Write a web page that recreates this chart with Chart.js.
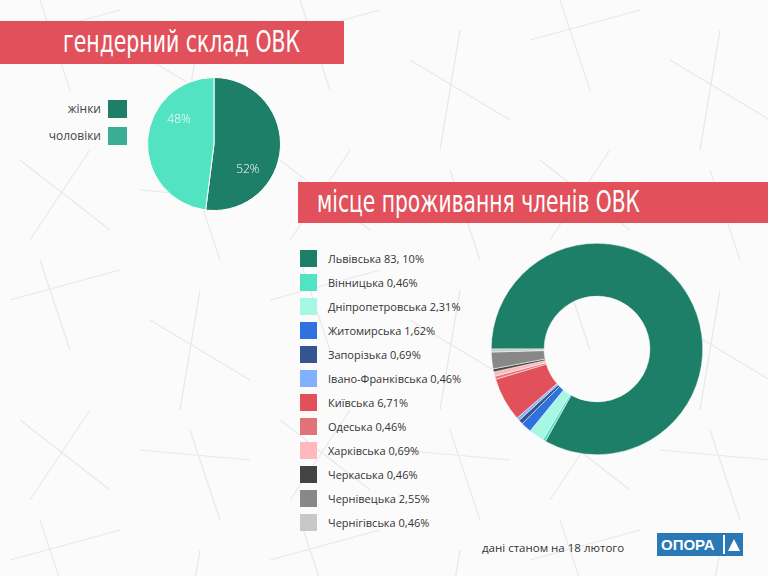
<!DOCTYPE html>
<html>
<head>
<meta charset="utf-8">
<script src="https://cdn.jsdelivr.net/npm/chart.js@4.4.0/dist/chart.umd.min.js"></script>
<style>
    body { margin: 0; }
    #page {
        position: relative; width: 768px; height: 576px; overflow: hidden;
        background-color: #fbfbfb;
        background-image: url("data:image/svg+xml,%3Csvg xmlns='http://www.w3.org/2000/svg' width='260' height='260'%3E%3Cg stroke='%23e8e8e8' stroke-width='1.2' fill='none'%3E%3Cpath d='M10 40 L120 10 M40 0 L70 90 M150 60 L250 120 M200 30 L180 150 M20 160 L110 230 M30 240 L90 150 M140 190 L250 200 M190 170 L220 260'/%3E%3C/g%3E%3C/svg%3E");
        font-family: "Open Sans", sans-serif;
    }
    .banner {
        position: absolute; background: #e2515b; color: #fff;
        font-family: "DejaVu Sans", sans-serif;
        font-size: 30px; white-space: nowrap;
    }
    .banner span { position: absolute; transform-origin: 0 0; }
    .box { position: absolute; }
    .legend-row { position: absolute; display: flex; align-items: center; font-size: 11px; color: #333; white-space: nowrap; }
    .legend-row i { display: inline-block; width: 17px; height: 17px; margin-right: 11px; }
    .glegend { position: absolute; font-size: 12px; color: #444; white-space: nowrap; text-align: right; }
    #note { position: absolute; left: 482px; top: 540px; font-size: 11.5px; color: #333; }
    #logo {
        position: absolute; left: 657px; top: 533px; width: 86px; height: 23px; background: #2a78b5;
        color: #fff; font: bold 15px "Liberation Sans", Arial, sans-serif;
    }
</style>
</head>
<body>
<div id="page">
    <div class="banner" style="left:0;top:21px;width:344px;height:43px;"><span data-w="237" style="left:63px;top:3px">гендерний склад ОВК</span></div>
    <div class="banner" style="left:298px;top:182px;width:470px;height:41px;"><span data-w="323" style="left:19px;top:2px">місце проживання членів ОВК</span></div>

    <div class="box" style="left:491px;top:243px;width:212px;height:212px;"><canvas id="regionChart"></canvas></div>
    <div id="regionLegend"></div>

    <div class="box" style="left:147px;top:77px;width:134px;height:134px;"><canvas id="genderChart"></canvas></div>
    <div id="genderLegend"></div>

    <div id="note">дані станом на 18 лютого</div>
    <div id="logo">
        <span style="position:absolute;left:4px;top:3px;">ОПОРА</span>
        <span style="position:absolute;left:66px;top:2px;width:2px;height:19px;background:#fff;"></span>
        <span style="position:absolute;left:71px;top:6px;width:0;height:0;border-left:6px solid transparent;border-right:6px solid transparent;border-bottom:12px solid #fff;"></span>
    </div>
</div>

<script>
// гендерний склад
const genderLabels = ['жінки', 'чоловіки']
const genderValues = [52, 48]
const genderColors = ['#1d7f68', '#52e3c2']
const genderLegendColors = ['#1d7f68', '#3aae94']

// місце проживання
const regionLabels = ['Львівська', 'Вінницька', 'Дніпропетровська', 'Житомирська', 'Запорізька', 'Івано-Франківська',
    'Київська', 'Одеська', 'Харківська', 'Черкаська', 'Чернівецька', 'Чернігівська']
const regionValues = [83.10, 0.46, 2.31, 1.62, 0.69, 0.46, 6.71, 0.46, 0.69, 0.46, 2.55, 0.46]
const regionLegendText = ['Львівська 83, 10%', 'Вінницька 0,46%', 'Дніпропетровська 2,31%', 'Житомирська 1,62%',
    'Запорізька 0,69%', 'Івано-Франківська 0,46%', 'Київська 6,71%', 'Одеська 0,46%', 'Харківська 0,69%',
    'Черкаська 0,46%', 'Чернівецька 2,55%', 'Чернігівська 0,46%']
const regionColors = ['#1d7f68', '#52e3c2', '#a6f7e4', '#2f72df', '#34558f', '#80b0ff',
    '#e2505a', '#e07378', '#ffb8bb', '#444444', '#888888', '#c8c8c8']

// squeeze banner titles to the condensed width of the original
document.querySelectorAll('.banner span').forEach((el) => {
    const w = el.getBoundingClientRect().width
    el.style.transform = `scaleX(${el.dataset.w / w})`
})

// legends
const gl = document.getElementById('genderLegend')
genderLabels.forEach((label, i) => {
    const top = 100 + i * 27
    gl.insertAdjacentHTML('beforeend',
        `<div class="glegend" style="right:${768 - 101}px;top:${top}px;line-height:18px;">${label}</div>` +
        `<i class="glegend" style="left:108px;top:${top}px;width:19px;height:18px;background:${genderLegendColors[i]}"></i>`)
})

const rl = document.getElementById('regionLegend')
regionLegendText.forEach((text, i) => {
    rl.insertAdjacentHTML('beforeend',
        `<div class="legend-row" style="left:300px;top:${250 + i * 24}px;"><i style="background:${regionColors[i]}"></i>${text}</div>`)
})

// percentage labels inside the pie
const sliceLabels = {
    id: 'sliceLabels',
    afterDatasetsDraw(chart) {
        const ctx = chart.ctx
        const meta = chart.getDatasetMeta(0)
        ctx.save()
        ctx.font = '300 12px "Open Sans"'
        ctx.fillStyle = '#ffffff'
        ctx.textAlign = 'center'
        ctx.textBaseline = 'middle'
        meta.data.forEach((arc, i) => {
            const p = arc.getProps(['x', 'y', 'startAngle', 'endAngle', 'outerRadius'])
            const a = p.startAngle + 0.68 * (p.endAngle - p.startAngle)
            const r = p.outerRadius * 0.64
            ctx.fillText(genderValues[i] + '%', p.x + Math.cos(a) * r, p.y + Math.sin(a) * r)
        })
        ctx.restore()
    }
}

new Chart(document.getElementById('genderChart'), {
    type: 'pie',
    data: {
        labels: genderLabels,
        datasets: [{ data: genderValues, backgroundColor: genderColors, borderColor: '#ffffff', borderWidth: 1, hoverOffset: 0 }]
    },
    options: {
        responsive: true,
        maintainAspectRatio: false,
        animation: false,
        events: [],
        layout: { padding: 0 },
        plugins: { legend: { display: false }, tooltip: { enabled: false } }
    },
    plugins: [sliceLabels]
})

new Chart(document.getElementById('regionChart'), {
    type: 'doughnut',
    data: {
        labels: regionLabels,
        datasets: [{ data: regionValues, backgroundColor: regionColors, borderColor: '#ffffff', borderWidth: 0.5, hoverOffset: 0 }]
    },
    options: {
        responsive: true,
        maintainAspectRatio: false,
        animation: false,
        events: [],
        rotation: -90,
        cutout: '50%',
        layout: { padding: 0 },
        plugins: { legend: { display: false }, tooltip: { enabled: false } }
    }
})
</script>
</body>
</html>
